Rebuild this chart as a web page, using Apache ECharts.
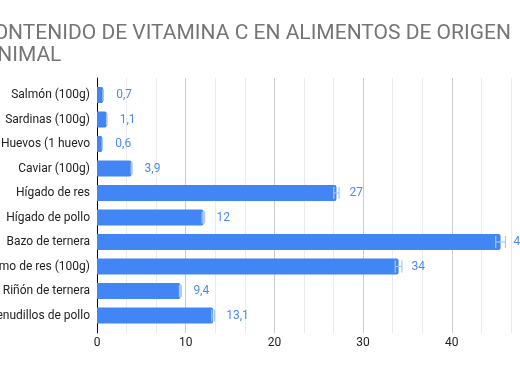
<!DOCTYPE html>
<html>
<head>
<meta charset="utf-8">
<script src="https://cdn.jsdelivr.net/npm/echarts@6/dist/echarts.min.js"></script>
<style>
html,body{margin:0;padding:0;overflow:hidden;background:#fff;}
#chart{position:absolute;left:0;top:0;width:600px;height:371px;}
</style>
</head>
<body>
<div id="chart"></div>
<script>
const titleLines = ['CONTENIDO DE VITAMINA C EN ALIMENTOS DE ORIGEN', 'ANIMAL'];
const categories = ['Salmón (100g)','Sardinas (100g)','Huevos (1 huevo','Caviar (100g)','Hígado de res','Hígado de pollo','Bazo de ternera','Timo de res (100g)','Riñón de ternera','Menudillos de pollo'];
const values = [0.7, 1.1, 0.6, 3.9, 27, 12, 45.5, 34, 9.4, 13.1];
const errors = [0.02, 0.02, 0.02, 0.05, 0.3, 0.14, 0.55, 0.38, 0.11, 0.15];
const xMin = 0, xMax = 50, xInterval = 10;

const chart = echarts.init(document.getElementById('chart'), null, {renderer:'canvas'});
const FONT = 'Roboto, Arial, sans-serif';
const errData = values.map((v,i)=>[v, errors[i], i]);
const titleStyle = {fontFamily:FONT, fontSize:21, fontWeight:'normal', color:'#757575', lineHeight:21};

chart.setOption({
  animation:false,
  title:[
    {text:titleLines[0], left:-20, top:23, padding:0, textStyle:titleStyle},
    {text:titleLines[1], left:-16.5, top:45, padding:0, textStyle:titleStyle}
  ],
  grid:[
    {left:97, width:443.5, top:82.75, height:245, containLabel:false, outerBoundsMode:'none'},
    {left:97, width:443.5, top:78, bottom:38, containLabel:false, outerBoundsMode:'none'}
  ],
  xAxis:[
    {gridIndex:0, type:'value', min:xMin, max:xMax, interval:xInterval, show:false},
    {gridIndex:1, type:'value', min:xMin, max:xMax, interval:xInterval,
     axisLine:{show:false}, axisTick:{show:false},
     axisLabel:{margin:4, fontFamily:FONT, fontSize:12, color:'#222'},
     splitLine:{show:true, lineStyle:{color:'#cccccc', width:1}},
     minorTick:{show:false, splitNumber:3},
     minorSplitLine:{show:true, lineStyle:{color:'#ebebeb', width:1}}
    }
  ],
  yAxis:[
    {gridIndex:0, type:'category', data:categories, inverse:true,
     axisLine:{show:false}, axisTick:{show:false}, splitLine:{show:false},
     axisLabel:{margin:7, fontFamily:FONT, fontSize:12, color:'#222'}},
    {gridIndex:1, type:'category', data:categories, inverse:true,
     axisLine:{show:true, onZero:false, lineStyle:{color:'#000', width:1}},
     axisTick:{show:false}, axisLabel:{show:false}, splitLine:{show:false}}
  ],
  series:[
    {type:'bar', xAxisIndex:0, yAxisIndex:0, data:values, barWidth:16,
     itemStyle:{color:'#4285f4', borderRadius:[0,2,2,0]},
     label:{show:true, position:'right', distance:13, fontFamily:FONT, fontSize:12, color:'#4a8af4',
       formatter:p=>String(p.value).replace('.',',')}
    },
    {type:'custom', xAxisIndex:0, yAxisIndex:0, data:errData, encode:{x:0, y:2}, z:5,
     renderItem:function(params, api){
       const v=api.value(0), e=api.value(1), i=api.value(2);
       const a=api.coord([v-e,i]), b=api.coord([v+e,i]);
       const h=6;
       const st={stroke:'#a8c6fa', lineWidth:1.2};
       return {type:'group', children:[
         {type:'line', shape:{x1:a[0],y1:a[1]-h,x2:a[0],y2:a[1]+h}, style:st},
         {type:'line', shape:{x1:b[0],y1:b[1]-h,x2:b[0],y2:b[1]+h}, style:st},
         {type:'line', shape:{x1:a[0],y1:a[1],x2:b[0],y2:b[1]}, style:st}
       ]};
     }
    }
  ]
});
</script>
</body>
</html>
